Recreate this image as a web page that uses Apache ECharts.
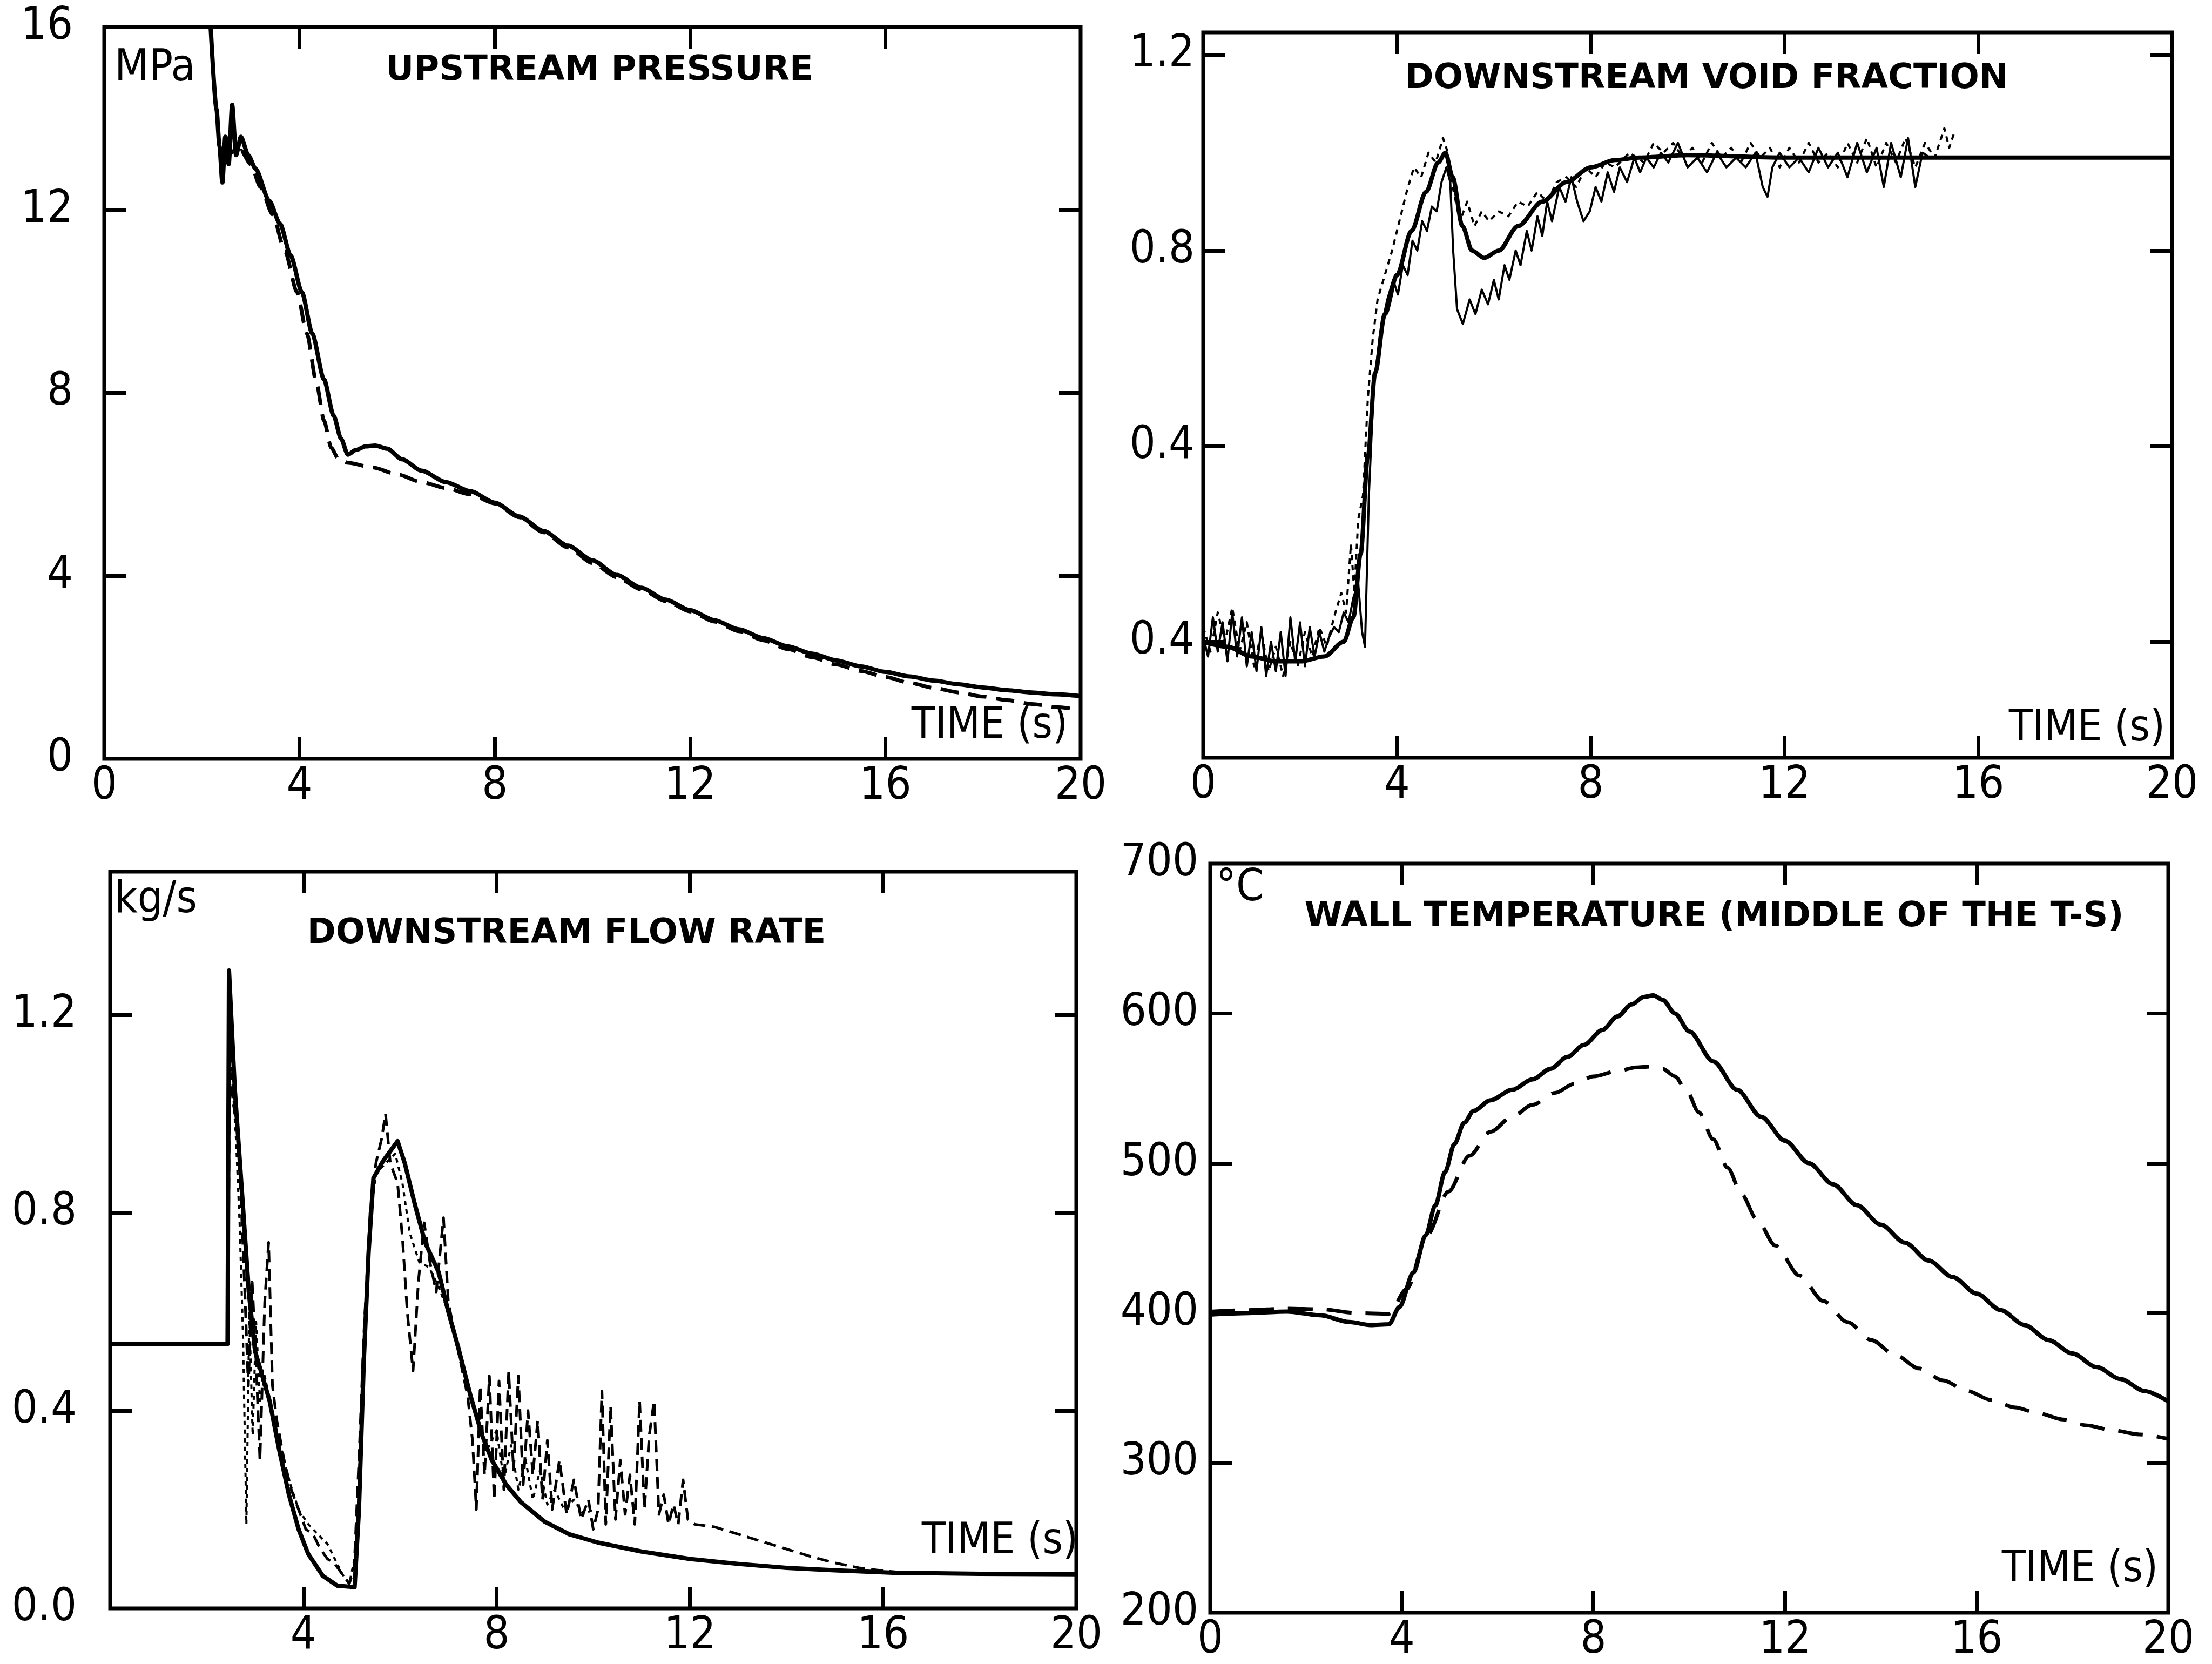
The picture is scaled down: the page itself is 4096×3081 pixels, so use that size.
<!DOCTYPE html>
<html>
<head>
<meta charset="utf-8">
<script src="https://cdn.jsdelivr.net/npm/echarts@6/dist/echarts.min.js"></script>
<style>
  html, body { margin: 0; padding: 0; background: #fff; }
  #chart { width: 4096px; height: 3081px; }
</style>
</head>
<body>
<div id="chart"></div>
<script>
// ---------- Upstream pressure (MPa) ----------
const pressureTicks = [0, 4, 8, 12, 16];
const pressureSolid = [[2.18,16.0],[2.3,14.2],[2.36,13.4],[2.42,12.6],[2.48,13.6],[2.55,13.0],[2.62,14.3],[2.7,13.2],[2.8,13.6],[2.95,13.2],[3.1,12.9],[3.38,12.2],[3.6,11.7],[3.82,11.0],[4.05,10.2],[4.26,9.3],[4.5,8.3],[4.7,7.5],[4.85,7.0],[4.99,6.65],[5.15,6.75],[5.35,6.83],[5.55,6.85],[5.8,6.78],[6.1,6.55],[6.5,6.3],[7.0,6.05],[7.5,5.85],[8.0,5.6],[8.5,5.3],[9.0,4.98],[9.5,4.66],[10.0,4.34],[10.5,4.02],[11.0,3.74],[11.5,3.48],[12.0,3.25],[12.5,3.03],[13.0,2.83],[13.5,2.64],[14.0,2.46],[14.5,2.3],[15.0,2.15],[15.5,2.02],[16.0,1.9],[16.5,1.8],[17.0,1.71],[17.5,1.63],[18.0,1.56],[18.5,1.5],[19.0,1.45],[19.5,1.41],[20.0,1.37]];
const pressureDashed = [[2.5,13.6],[2.65,13.2],[2.8,13.3],[3.0,13.0],[3.2,12.5],[3.45,11.9],[3.7,11.1],[3.95,10.2],[4.15,9.3],[4.35,8.2],[4.5,7.4],[4.65,6.8],[4.8,6.55],[5.0,6.47],[5.5,6.37],[6.0,6.22],[6.5,6.05],[7.0,5.92],[7.5,5.78],[8.0,5.58],[8.5,5.28],[9.0,4.95],[9.5,4.62],[10.0,4.28],[10.5,3.97],[11.0,3.7],[11.5,3.45],[12.0,3.22],[12.5,3.0],[13.0,2.79],[13.5,2.59],[14.0,2.4],[14.5,2.22],[15.0,2.06],[15.5,1.92],[16.0,1.79],[16.5,1.66],[17.0,1.55],[17.5,1.45],[18.0,1.36],[18.5,1.28],[19.0,1.2],[19.5,1.13],[20.0,1.07]];

// ---------- Downstream void fraction ----------
const voidTickValues = [0, 0.4, 0.8, 1.2];
const voidTickLabels = ['0.4', '0.4', '0.8', '1.2'];
const voidCalc = [[0,0.0],[0.5,-0.01],[1.0,-0.03],[1.5,-0.04],[2.0,-0.04],[2.5,-0.03],[2.9,0.0],[3.1,0.05],[3.25,0.18],[3.4,0.38],[3.55,0.55],[3.75,0.67],[4.0,0.75],[4.3,0.84],[4.6,0.92],[4.85,0.98],[5.0,1.0],[5.15,0.95],[5.35,0.85],[5.55,0.8],[5.8,0.785],[6.1,0.8],[6.5,0.85],[7.0,0.9],[7.5,0.94],[8.0,0.97],[8.5,0.985],[9.0,0.99],[10,0.995],[12,0.99],[16,0.99],[20,0.99]];
const voidMeasured = [[0,0.01],[0.1,-0.03],[0.2,0.05],[0.3,-0.02],[0.4,0.04],[0.5,-0.04],[0.6,0.06],[0.7,-0.03],[0.8,0.05],[0.9,-0.05],[1.0,0.02],[1.1,-0.06],[1.2,0.03],[1.3,-0.07],[1.4,0.0],[1.5,-0.06],[1.6,0.02],[1.7,-0.07],[1.8,0.05],[1.9,-0.04],[2.0,0.04],[2.1,-0.05],[2.2,0.03],[2.3,-0.03],[2.4,0.02],[2.5,-0.02],[2.6,0.01],[2.7,0.03],[2.8,0.02],[2.9,0.06],[3.0,0.04],[3.1,0.09],[3.2,0.12],[3.28,0.02],[3.34,-0.01],[3.42,0.3],[3.52,0.52],[3.65,0.63],[3.8,0.7],[3.92,0.74],[4.02,0.71],[4.12,0.77],[4.22,0.75],[4.32,0.82],[4.42,0.8],[4.52,0.86],[4.62,0.84],[4.72,0.89],[4.82,0.88],[4.92,0.94],[5.02,0.97],[5.1,0.94],[5.16,0.8],[5.24,0.68],[5.36,0.65],[5.5,0.7],[5.62,0.67],[5.75,0.72],[5.88,0.69],[6.0,0.74],[6.1,0.7],[6.22,0.77],[6.32,0.74],[6.45,0.8],[6.55,0.77],[6.68,0.84],[6.78,0.8],[6.9,0.87],[7.0,0.83],[7.1,0.9],[7.2,0.86],[7.35,0.93],[7.48,0.9],[7.6,0.95],[7.72,0.9],[7.85,0.86],[7.98,0.88],[8.1,0.93],[8.22,0.9],[8.35,0.96],[8.48,0.92],[8.6,0.97],[8.75,0.94],[8.9,0.99],[9.02,0.96],[9.15,0.99],[9.3,0.97],[9.45,1.0],[9.6,0.98],[9.8,1.02],[10.0,0.97],[10.2,0.99],[10.4,0.96],[10.6,1.0],[10.8,0.97],[11.0,0.99],[11.2,0.97],[11.4,1.0],[11.55,0.93],[11.65,0.91],[11.75,0.97],[11.9,1.0],[12.1,0.97],[12.3,0.99],[12.5,0.96],[12.7,1.01],[12.9,0.97],[13.1,1.0],[13.3,0.95],[13.5,1.02],[13.7,0.96],[13.9,1.01],[14.05,0.93],[14.2,1.02],[14.4,0.95],[14.55,1.03],[14.7,0.93],[14.85,1.0],[15.0,0.99]];
const voidDotted = [[0,0.03],[0.15,-0.02],[0.3,0.06],[0.45,0.0],[0.6,0.07],[0.75,-0.02],[0.9,0.04],[1.05,-0.05],[1.2,0.02],[1.35,-0.06],[1.5,-0.01],[1.65,-0.07],[1.8,0.0],[1.95,-0.05],[2.1,0.02],[2.25,-0.03],[2.4,0.03],[2.55,-0.01],[2.7,0.05],[2.85,0.1],[2.95,0.06],[3.05,0.2],[3.12,0.1],[3.2,0.25],[3.3,0.3],[3.4,0.5],[3.5,0.62],[3.6,0.7],[3.75,0.75],[3.9,0.8],[4.05,0.86],[4.2,0.92],[4.35,0.97],[4.5,0.95],[4.65,1.0],[4.8,0.98],[4.95,1.03],[5.05,1.0],[5.15,0.93],[5.3,0.86],[5.45,0.9],[5.6,0.85],[5.75,0.88],[5.9,0.86],[6.1,0.88],[6.3,0.87],[6.5,0.9],[6.7,0.89],[6.9,0.92],[7.1,0.9],[7.3,0.94],[7.5,0.95],[7.7,0.93],[7.9,0.97],[8.1,0.95],[8.3,0.98],[8.5,0.97],[8.8,1.0],[9.1,0.98],[9.3,1.02],[9.5,1.0],[9.7,1.02],[9.9,0.99],[10.1,1.01],[10.3,0.98],[10.5,1.02],[10.7,0.99],[10.9,1.01],[11.1,0.98],[11.3,1.02],[11.5,0.99],[11.7,1.01],[11.9,0.97],[12.1,1.01],[12.3,0.98],[12.5,1.02],[12.7,0.98],[12.9,1.0],[13.1,0.97],[13.3,1.02],[13.5,0.98],[13.7,1.03],[13.9,0.97],[14.1,1.02],[14.3,0.98],[14.5,1.03],[14.7,0.97],[14.9,1.02],[15.1,0.99],[15.3,1.05],[15.4,1.01],[15.5,1.04]];

// ---------- Downstream flow rate (kg/s) ----------
const flowTickValues = [0, 0.4, 0.8, 1.2];
const flowTickLabels = ['0.0', '0.4', '0.8', '1.2'];
const flowCalc = [[0,0.535],[2.43,0.535],[2.46,1.29],[2.58,1.05],[2.73,0.84],[2.87,0.64],[3.0,0.52],[3.15,0.47],[3.3,0.42],[3.5,0.32],[3.7,0.23],[3.9,0.16],[4.1,0.11],[4.4,0.066],[4.7,0.046],[5.06,0.043],[5.15,0.2],[5.25,0.5],[5.35,0.72],[5.45,0.87],[5.65,0.905],[5.95,0.945],[6.1,0.9],[6.3,0.82],[6.52,0.74],[6.8,0.68],[7.0,0.6],[7.2,0.53],[7.46,0.43],[7.7,0.35],[7.9,0.3],[8.2,0.25],[8.5,0.215],[9.0,0.175],[9.5,0.15],[10.1,0.133],[11.0,0.115],[12.0,0.1],[13.0,0.09],[14.0,0.082],[15.0,0.077],[16.2,0.072],[18.0,0.07],[20.0,0.069]];
const flowDashed = [[2.44,0.55],[2.47,1.1],[2.55,1.02],[2.62,0.98],[2.7,0.85],[2.78,0.66],[2.86,0.45],[2.94,0.66],[3.02,0.5],[3.1,0.3],[3.2,0.62],[3.28,0.74],[3.36,0.45],[3.45,0.38],[3.6,0.3],[3.75,0.24],[3.9,0.2],[4.05,0.16],[4.2,0.15],[4.35,0.12],[4.5,0.1],[4.65,0.09],[4.8,0.07],[4.95,0.05],[5.05,0.08],[5.15,0.3],[5.25,0.55],[5.38,0.8],[5.5,0.9],[5.62,0.95],[5.7,1.0],[5.8,0.9],[5.95,0.86],[6.05,0.75],[6.15,0.6],[6.27,0.48],[6.38,0.66],[6.5,0.78],[6.62,0.7],[6.75,0.64],[6.9,0.79],[7.0,0.62],[7.1,0.57],[7.25,0.5],[7.4,0.43],[7.5,0.34],[7.58,0.2],[7.66,0.45],[7.75,0.27],[7.85,0.47],[7.95,0.22],[8.05,0.46],[8.15,0.24],[8.25,0.48],[8.35,0.28],[8.45,0.47],[8.55,0.25],[8.65,0.4],[8.75,0.27],[8.85,0.38],[8.95,0.22],[9.05,0.34],[9.15,0.2],[9.3,0.3],[9.45,0.19],[9.6,0.26],[9.75,0.18],[9.9,0.22],[10.0,0.16],[10.1,0.2],[10.18,0.44],[10.26,0.17],[10.36,0.41],[10.46,0.18],[10.56,0.3],[10.66,0.19],[10.76,0.27],[10.86,0.17],[10.96,0.42],[11.06,0.2],[11.16,0.35],[11.26,0.42],[11.36,0.19],[11.46,0.23],[11.56,0.17],[11.66,0.21],[11.76,0.17],[11.86,0.26],[11.96,0.18],[12.1,0.17],[12.5,0.165],[13.0,0.15],[13.5,0.135],[14.0,0.12],[14.5,0.105],[15.0,0.092],[15.5,0.082],[16.0,0.076],[16.5,0.072]];
const flowDotted = [[2.45,1.2],[2.52,1.08],[2.6,0.96],[2.68,0.78],[2.75,0.55],[2.82,0.17],[2.88,0.6],[2.95,0.35],[3.02,0.58],[3.1,0.42],[3.2,0.47],[3.35,0.4],[3.5,0.34],[3.7,0.26],[3.9,0.2],[4.1,0.17],[4.3,0.15],[4.5,0.13],[4.65,0.1],[4.8,0.07],[4.95,0.05],[5.1,0.12],[5.2,0.4],[5.35,0.75],[5.5,0.88],[5.7,0.9],[5.9,0.92],[6.05,0.86],[6.2,0.76],[6.4,0.7],[6.6,0.69],[6.8,0.65],[7.0,0.6],[7.2,0.52],[7.4,0.45],[7.6,0.38],[7.8,0.32],[8.0,0.36],[8.15,0.26],[8.3,0.33],[8.45,0.24],[8.6,0.3],[8.75,0.22],[8.9,0.28],[9.05,0.21],[9.2,0.24],[9.4,0.2],[9.6,0.22],[9.8,0.19],[10.0,0.2]];

// ---------- Wall temperature (°C) ----------
const tempTicks = [200, 300, 400, 500, 600, 700];
const tempSolid = [[0,399],[0.8,400],[1.6,401],[2.3,398.5],[2.9,394],[3.35,392],[3.73,392.5],[3.95,404],[4.24,427],[4.5,452],[4.7,472],[4.9,494],[5.1,513],[5.3,527],[5.5,535],[5.85,542],[6.3,549],[6.73,556],[7.1,563],[7.46,571],[7.8,579],[8.19,589],[8.5,598],[8.8,606],[9.05,611],[9.25,612],[9.45,609],[9.7,600],[10.0,588],[10.5,568],[11.0,549],[11.5,531],[12.0,515],[12.5,500],[13.0,486],[13.5,472],[14.0,459],[14.5,447],[15.0,435],[15.5,424],[16.0,413],[16.5,402],[17.0,392],[17.5,382],[18.0,373],[18.5,364],[19.0,356],[19.5,348],[20.0,341]];
const tempDashed = [[0,401],[0.8,402],[1.6,403],[2.3,402.5],[3.07,400],[3.73,399.5],[4.1,416],[4.53,452],[4.97,481],[5.41,505],[5.85,521],[6.3,531],[6.73,539],[7.2,547],[7.6,553],[8.0,558],[8.5,561.5],[8.9,564],[9.2,564.5],[9.45,563],[9.7,558],[9.95,548],[10.2,534],[10.5,516],[10.8,497],[11.1,479],[11.4,463],[11.8,445],[12.3,425],[12.8,408],[13.3,394],[13.8,382],[14.3,372],[14.8,363],[15.3,355],[15.8,348],[16.3,342],[16.8,337],[17.3,333],[17.8,329],[18.3,325],[18.8,322],[19.4,319],[20,316]];

// ---------- Shared time axis ----------
const timeLabels = [0, 4, 8, 12, 16, 20];
const timeLabelsNoZero = [4, 8, 12, 16, 20];
const timeTicks = [4, 8, 12, 16];

const NUM_FONT = "'DejaVu Sans Condensed', 'DejaVu Sans', sans-serif";
const INK = '#000';

const panels = [
  { grid: { left: 193, top: 50, width: 1808, height: 1355 },
    y: { min: 0, max: 16, ticks: [4, 8, 12], labels: pressureTicks, fmt: v => String(Math.round(v)), margin: 58 },
    xLabels: timeLabels },
  { grid: { left: 2228, top: 60, width: 1794, height: 1343 },
    y: { min: -0.237, max: 1.246, ticks: voidTickValues, labels: voidTickValues,
         fmt: v => { const i = voidTickValues.findIndex(t => Math.abs(t - v) < 1e-6); return i >= 0 ? voidTickLabels[i] : ''; },
         margin: 16 },
    xLabels: timeLabels },
  { grid: { left: 204, top: 1614, width: 1789, height: 1364 },
    y: { min: 0, max: 1.49, ticks: [0.4, 0.8, 1.2], labels: flowTickValues,
         fmt: v => { const i = flowTickValues.findIndex(t => Math.abs(t - v) < 1e-6); return i >= 0 ? flowTickLabels[i] : ''; },
         margin: 62 },
    xLabels: timeLabelsNoZero },
  { grid: { left: 2241, top: 1599, width: 1774, height: 1387 },
    y: { min: 200, max: 700, ticks: [300, 400, 500, 600], labels: tempTicks, fmt: v => String(Math.round(v)), margin: 22 },
    xLabels: timeLabels }
];

const tickStyle = (vals) => ({ show: true, inside: true, length: 40, customValues: vals,
                               lineStyle: { color: INK, width: 7 } });
const hiddenLine = { show: false, onZero: false };

const grids = [], xAxes = [], yAxes = [];
panels.forEach((p, gi) => {
  grids.push(Object.assign({ show: true, borderColor: INK, borderWidth: 7,
                             backgroundColor: 'transparent', containLabel: false,
                             outerBoundsMode: 'none' }, p.grid));
  // bottom (labelled) and top (ticks only) time axes
  xAxes.push({ type: 'value', gridIndex: gi, position: 'bottom', min: 0, max: 20,
               axisLine: hiddenLine, splitLine: { show: false },
               axisTick: tickStyle(timeTicks),
               axisLabel: { show: true, customValues: p.xLabels, margin: 10, color: INK,
                            fontSize: 84, fontFamily: NUM_FONT } });
  xAxes.push({ type: 'value', gridIndex: gi, position: 'top', min: 0, max: 20,
               axisLine: hiddenLine, splitLine: { show: false },
               axisTick: tickStyle(timeTicks), axisLabel: { show: false } });
  // left (labelled) and right (ticks only) value axes
  yAxes.push({ type: 'value', gridIndex: gi, position: 'left', min: p.y.min, max: p.y.max,
               axisLine: hiddenLine, splitLine: { show: false },
               axisTick: tickStyle(p.y.ticks),
               axisLabel: { show: true, customValues: p.y.labels, formatter: p.y.fmt,
                            margin: p.y.margin, color: INK, fontSize: 84, fontFamily: NUM_FONT } });
  yAxes.push({ type: 'value', gridIndex: gi, position: 'right', min: p.y.min, max: p.y.max,
               axisLine: hiddenLine, splitLine: { show: false },
               axisTick: tickStyle(p.y.ticks), axisLabel: { show: false } });
});

function line(gi, data, width, type, smooth) {
  return { type: 'line', xAxisIndex: gi * 2, yAxisIndex: gi * 2, data: data,
           showSymbol: false, symbol: 'none', smooth: smooth || false, smoothMonotone: 'x',
           lineStyle: { color: INK, width: width, type: type || 'solid', cap: 'butt', join: 'round' },
           animation: false, z: 3 };
}

const series = [
  line(0, pressureSolid, 8, 'solid', 0.25),
  line(0, pressureDashed, 7, [34, 18], 0.25),
  line(1, voidDotted, 4, [10, 9], false),
  line(1, voidMeasured, 4, 'solid', false),
  line(1, voidCalc, 8, 'solid', 0.3),
  line(2, flowDotted, 4, [8, 8], false),
  line(2, flowDashed, 5, [22, 12], false),
  line(2, flowCalc, 8, 'solid', false),
  line(3, tempSolid, 8, 'solid', 0.3),
  line(3, tempDashed, 7, [46, 26], 0.3)
];

const TITLE_FONT = "bold 64px 'DejaVu Sans', sans-serif";
const UNIT_FONT = "82px 'DejaVu Sans Condensed', 'DejaVu Sans', sans-serif";
const TIME_FONT = "80px 'DejaVu Sans Condensed', 'DejaVu Sans', sans-serif";
const txt = (text, x, y, font, align) => ({ type: 'text', x: x, y: y, z: 10,
  style: { text: text, fill: INK, font: font, textAlign: align, textVerticalAlign: 'middle' } });

const graphics = [
  txt('MPa', 212, 128, UNIT_FONT, 'left'),
  txt('UPSTREAM PRESSURE', 1110, 131, TITLE_FONT, 'center'),
  txt('TIME (s)', 1977, 1345, TIME_FONT, 'right'),
  txt('DOWNSTREAM VOID FRACTION', 3160, 146, TITLE_FONT, 'center'),
  txt('TIME (s)', 4009, 1350, TIME_FONT, 'right'),
  txt('kg/s', 212, 1668, UNIT_FONT, 'left'),
  txt('DOWNSTREAM FLOW RATE', 1049, 1729, TITLE_FONT, 'center'),
  txt('TIME (s)', 1996, 2855, TIME_FONT, 'right'),
  txt('°C', 2252, 1646, UNIT_FONT, 'left'),
  txt('WALL TEMPERATURE (MIDDLE OF THE T-S)', 3174, 1698, TITLE_FONT, 'center'),
  txt('TIME (s)', 3996, 2907, TIME_FONT, 'right')
];

const chart = echarts.init(document.getElementById('chart'), null, { renderer: 'canvas' });
chart.setOption({
  backgroundColor: '#fff',
  animation: false,
  grid: grids,
  xAxis: xAxes,
  yAxis: yAxes,
  series: series,
  graphic: graphics
});
</script>
</body>
</html>
